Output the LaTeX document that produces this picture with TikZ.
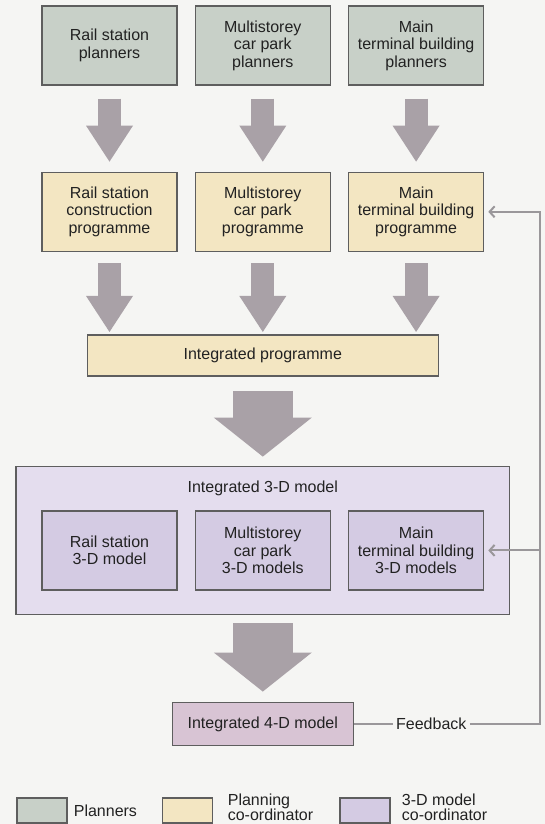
\documentclass[tikz,border=0pt]{standalone}
\usepackage{fontspec}
\setmainfont{Liberation Sans}
\usetikzlibrary{arrows.meta}
\usetikzlibrary{positioning}
\usetikzlibrary{fit}
\usetikzlibrary{backgrounds}
\definecolor{bgcol}{HTML}{F5F5F3}
\definecolor{plancol}{HTML}{C8D0C8}
\definecolor{progcol}{HTML}{F3E6C2}
\definecolor{modelcol}{HTML}{D4CBE3}
\definecolor{outercol}{HTML}{E4DDEE}
\definecolor{fourdcol}{HTML}{D8C4D4}
\definecolor{arrcol}{HTML}{A9A1A7}
\definecolor{edgecol}{HTML}{5E5E5E}
\definecolor{textcol}{HTML}{222222}
\definecolor{fbcol}{HTML}{9A979A}

\begin{document}
\begin{tikzpicture}[x=1pt,y=-1pt,
    every node/.style={font=\fontsize{16}{17.5}\selectfont, text=textcol},
    box/.style={draw=edgecol, line width=1.3pt, minimum width=135pt, minimum height=79pt, inner sep=0pt, align=center},
    planner/.style={box, fill=plancol},
    prog/.style={box, fill=progcol},
    model/.style={box, fill=modelcol},
    smallarr/.style={draw=arrcol, line width=23pt, -{Triangle[width=47pt,length=36pt,line width=0pt]}},
    bigarr/.style={draw=arrcol, line width=60pt, -{Triangle[width=98pt,length=39pt,line width=0pt]}},
    fbline/.style={draw=fbcol, line width=2pt},
    fbarrow/.style={fbline, -{Straight Barb[length=5pt,width=11pt]}, shorten >=4pt},
    legendkey/.style={draw=edgecol, line width=1.3pt, minimum width=50pt, minimum height=25pt, inner sep=0pt},
    legendtext/.style={inner sep=0pt, align=left, font=\fontsize{16}{15.5}\selectfont}]
      \node[planner] (rs) at (109.5,45.5) {Rail station\\planners};
      \node[planner, right=17pt of rs] (cp) {Multistorey\\car park\\planners};
      \node[planner, right=17pt of cp] (mt) {Main\\terminal building\\planners};

      \node[prog, below=86pt of rs] (rsp) {Rail station\\construction\\programme};
      \node[prog, right=17pt of rsp] (cpp) {Multistorey\\car park\\programme};
      \node[prog, right=17pt of cpp] (mtp) {Main\\terminal building\\programme};

      \node[box, fill=progcol, minimum width=351pt, minimum height=41pt, below=82.5pt of cpp] (ip) {Integrated programme};

      \node[model, below=133.5pt of ip] (cpm) {Multistorey\\car park\\3-D models};
      \node[model, left=17pt of cpm] (rsm) {Rail station\\3-D model};
      \node[model, right=17pt of cpm] (mtm) {Main\\terminal building\\3-D models};
      \node (ttl) at ([yshift=22pt]cpm.north) {Integrated 3-D model};
      \coordinate (imtop) at ([yshift=20pt]cpm.north);

      \node[box, fill=fourdcol, minimum width=181pt, minimum height=43pt, below=111.5pt of cpm] (i4) {Integrated 4-D model};
      \node[right=39pt of i4, inner sep=3pt] (fb) {Feedback};
      \coordinate[right=70pt of fb] (fc);

      \begin{scope}[on background layer]
        \fill[bgcol] (0,0) rectangle (545,824);
        \node[fit=(rsm)(mtm)(imtop), inner xsep=25.5pt, inner ysep=24pt, draw=edgecol, line width=1.3pt, fill=outercol] (im) {};
      \end{scope}

      \draw[smallarr] ([yshift=-13pt]rs.south) -- ([yshift=10pt]rsp.north);
      \draw[smallarr] ([yshift=-13pt]cp.south) -- ([yshift=10pt]cpp.north);
      \draw[smallarr] ([yshift=-13pt]mt.south) -- ([yshift=10pt]mtp.north);
      \draw[smallarr] ([yshift=-11.5pt]rsp.south) -- ([yshift=2.5pt]rsp.south |- ip.north);
      \draw[smallarr] ([yshift=-11.5pt]cpp.south) -- ([yshift=2.5pt]ip.north);
      \draw[smallarr] ([yshift=-11.5pt]mtp.south) -- ([yshift=2.5pt]mtp.south |- ip.north);
      \draw[bigarr] ([yshift=-14pt]ip.south) -- ([yshift=9pt]im.north);
      \draw[bigarr] ([yshift=-8pt]im.south) -- ([yshift=10.5pt]i4.north);

      \draw[fbline] (i4) -- (fb);
      \draw[fbarrow] (fb) -- (fc) |- (mtp);
      \draw[fbarrow] (fc |- mtm) -- (mtm);

      \node[legendkey, fill=plancol] (k1) at (42,810.5) {};
      \node[legendtext, right=6pt of k1] (t1) {Planners};
      \node[legendkey, fill=progcol] (k2) at (187.5,810.5) {};
      \node[legendtext, right=14.5pt of k2, yshift=3pt] (t2) {Planning\\co-ordinator};
      \node[legendkey, fill=modelcol] (k3) at (365,810.5) {};
      \node[legendtext, right=11pt of k3, yshift=3pt] (t3) {3-D model\\co-ordinator};
      \useasboundingbox (0,0) rectangle (545,824);
    \end{tikzpicture}
\end{document}
